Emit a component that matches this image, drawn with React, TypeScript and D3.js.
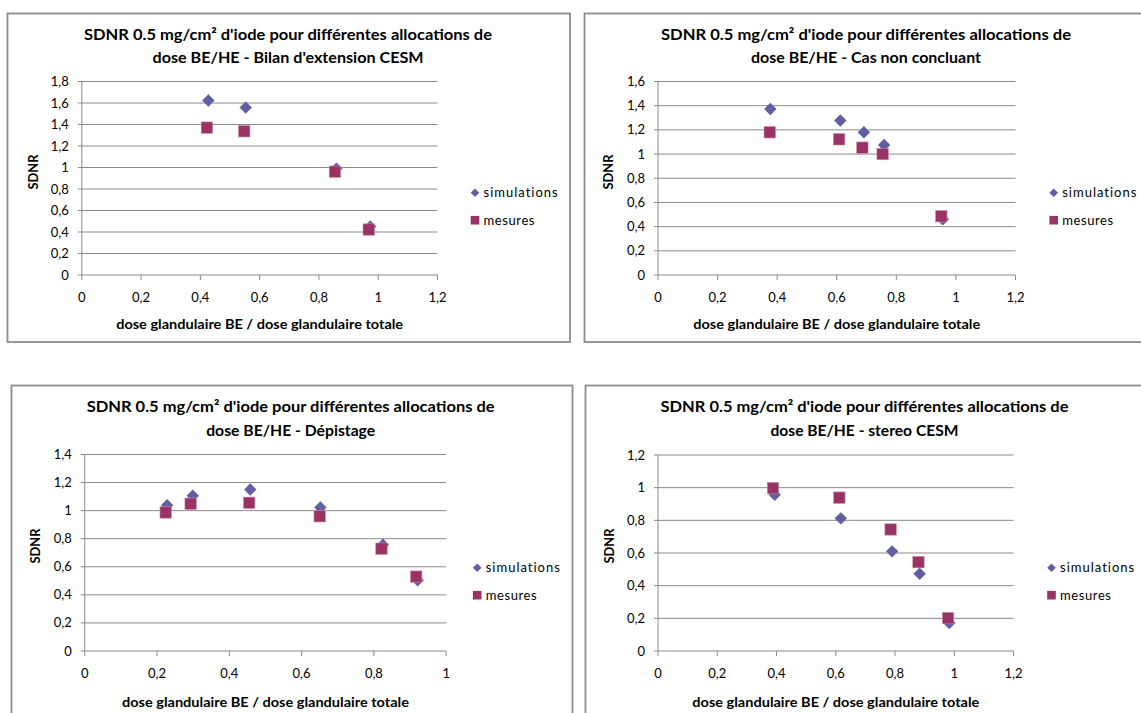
import React from "react";
import * as d3 from "d3";

// ---------- DATA ----------
const chartTitlesLine1 = [
  "SDNR 0.5 mg/cm² d'iode pour différentes allocations de",
  "SDNR 0.5 mg/cm² d'iode pour différentes allocations de",
  "SDNR 0.5 mg/cm² d'iode pour différentes allocations de",
  "SDNR 0.5 mg/cm² d'iode pour différentes allocations de",
];
const chartTitlesLine2 = [
  "dose BE/HE - Bilan d'extension CESM",
  "dose BE/HE - Cas non concluant",
  "dose BE/HE - Dépistage",
  "dose BE/HE - stereo CESM",
];
const seriesNames = ["simulations", "mesures"];
const xAxisTitle = "dose glandulaire BE / dose glandulaire totale";
const yAxisTitle = "SDNR";

// Bilan d'extension CESM
const simX1 = [0.427, 0.553, 0.859, 0.973];
const simY1 = [1.623, 1.557, 0.99, 0.451];
const mesX1 = [0.422, 0.548, 0.854, 0.968];
const mesY1 = [1.371, 1.337, 0.961, 0.423];
// Cas non concluant
const simX2 = [0.377, 0.612, 0.691, 0.759, 0.956];
const simY2 = [1.373, 1.277, 1.18, 1.075, 0.461];
const mesX2 = [0.375, 0.608, 0.686, 0.754, 0.951];
const mesY2 = [1.18, 1.122, 1.053, 1.0, 0.486];
// Dépistage
const simX3 = [0.228, 0.299, 0.458, 0.652, 0.825, 0.921];
const simY3 = [1.039, 1.106, 1.151, 1.022, 0.757, 0.504];
const mesX3 = [0.224, 0.293, 0.455, 0.65, 0.821, 0.917];
const mesY3 = [0.987, 1.049, 1.056, 0.96, 0.729, 0.53];
// stereo CESM
const simX4 = [0.394, 0.617, 0.79, 0.883, 0.983];
const simY4 = [0.957, 0.812, 0.61, 0.473, 0.171];
const mesX4 = [0.388, 0.612, 0.785, 0.879, 0.979];
const mesY4 = [0.997, 0.939, 0.744, 0.544, 0.201];

const xTicks1 = [0, 0.2, 0.4, 0.6, 0.8, 1, 1.2];
const xTicks3 = [0, 0.2, 0.4, 0.6, 0.8, 1];
const yTicks1 = [0, 0.2, 0.4, 0.6, 0.8, 1, 1.2, 1.4, 1.6, 1.8];
const yTicks2 = [0, 0.2, 0.4, 0.6, 0.8, 1, 1.2, 1.4, 1.6];
const yTicks3 = [0, 0.2, 0.4, 0.6, 0.8, 1, 1.2, 1.4];
const yTicks4 = [0, 0.2, 0.4, 0.6, 0.8, 1, 1.2];

const fmt = (v: number) => String(+v.toFixed(1)).replace(".", ",");

// ---------- LAYOUT / STYLE ----------
const FONT = "Lato, 'Open Sans', sans-serif";
const SIM_COLOR = "#5f5fa2";
const MES_COLOR = "#993366";
const GRID = "#8a8a8a";

const panels = [
  {
    box: { x: 7.5, y: 13.5, w: 562.5, h: 328.5 },
    plot: { l: 81.8, r: 437.5, t: 81.5, b: 275 },
    titleX: 288,
    titleY: [35.2, 58],
    titleW: [408, 271],
    xTitleY: 324.5,
    yTitle: { x: 32.7, y: 172 },
    legend: { x: 475, y: 192.8 },
    sim: [simX1, simY1], mes: [mesX1, mesY1],
    xTicks: xTicks1, yTicks: yTicks1,
  },
  {
    box: { x: 584.5, y: 13.5, w: 562.5, h: 328.5 },
    plot: { l: 658, r: 1015.5, t: 81.5, b: 275 },
    titleX: 866,
    titleY: [35.2, 58],
    titleW: [410, 230],
    xTitleY: 324.5,
    yTitle: { x: 608.2, y: 172 },
    legend: { x: 1053.7, y: 192.8 },
    sim: [simX2, simY2], mes: [mesX2, mesY2],
    xTicks: xTicks1, yTicks: yTicks2,
  },
  {
    box: { x: 11.5, y: 385.5, w: 561, h: 340 },
    plot: { l: 84.7, r: 446.2, t: 454.5, b: 651 },
    titleX: 290.7,
    titleY: [407, 431.3],
    titleW: [408, 169],
    xTitleY: 702,
    yTitle: { x: 35.6, y: 546 },
    legend: { x: 477.2, y: 567.8 },
    sim: [simX3, simY3], mes: [mesX3, mesY3],
    xTicks: xTicks3, yTicks: yTicks3,
  },
  {
    box: { x: 585.5, y: 385.5, w: 562.5, h: 340 },
    plot: { l: 658, r: 1013.6, t: 455, b: 651 },
    titleX: 864.5,
    titleY: [407, 431.3],
    titleW: [408, 188],
    xTitleY: 702,
    yTitle: { x: 609, y: 546 },
    legend: { x: 1051.5, y: 567.8 },
    sim: [simX4, simY4], mes: [mesX4, mesY4],
    xTicks: xTicks1, yTicks: yTicks4,
  },
];

function diamondPath(cx: number, cy: number, r: number) {
  return `M${cx},${cy - r}L${cx + r},${cy}L${cx},${cy + r}L${cx - r},${cy}Z`;
}

function Panel({ p, i }: { p: (typeof panels)[number]; i: number }) {
  const xMax = p.xTicks[p.xTicks.length - 1];
  const yMax = p.yTicks[p.yTicks.length - 1];
  const x = d3.scaleLinear().domain([0, xMax]).range([p.plot.l, p.plot.r]);
  const y = d3.scaleLinear().domain([0, yMax]).range([p.plot.b, p.plot.t]);
  const plotCx = (p.plot.l + p.plot.r) / 2;
  const simPts = p.sim[0].map((v, k) => [x(v), y(p.sim[1][k])]);
  const mesPts = p.mes[0].map((v, k) => [x(v), y(p.mes[1][k])]);
  return (
    <g>
      <rect x={p.box.x} y={p.box.y} width={p.box.w} height={p.box.h} fill="#fff" stroke="#8c8c8c" strokeWidth={1.8} />
      <text x={p.titleX} y={p.titleY[0] + 5} textAnchor="middle" fontFamily={FONT} fontWeight="bold" fontSize={14.5}
        textLength={p.titleW[0]} lengthAdjust="spacingAndGlyphs" fill="#000">
        {chartTitlesLine1[i]}
      </text>
      <text x={p.titleX} y={p.titleY[1] + 5} textAnchor="middle" fontFamily={FONT} fontWeight="bold" fontSize={14.5}
        textLength={p.titleW[1]} lengthAdjust="spacingAndGlyphs" fill="#000">
        {chartTitlesLine2[i]}
      </text>
      {/* gridlines */}
      {p.yTicks.map((t) => (
        <line key={"g" + t} x1={p.plot.l - 4} x2={p.plot.r} y1={y(t)} y2={y(t)} stroke={GRID} strokeWidth={1} />
      ))}
      {/* y axis */}
      <line x1={p.plot.l} x2={p.plot.l} y1={p.plot.t} y2={p.plot.b} stroke={GRID} strokeWidth={1} />
      {p.yTicks.map((t) => (
        <text key={"yl" + t} x={p.plot.l - 13} y={y(t) + 4.5} textAnchor="end" fontFamily={FONT} fontSize={13} fill="#000">
          {fmt(t)}
        </text>
      ))}
      {/* x axis ticks */}
      {p.xTicks.map((t) => (
        <g key={"xt" + t}>
          <line x1={x(t)} x2={x(t)} y1={p.plot.b} y2={p.plot.b + 5} stroke={GRID} strokeWidth={1} />
          <text x={x(t)} y={p.plot.b + 27} textAnchor="middle" fontFamily={FONT} fontSize={13} fill="#000">
            {fmt(t)}
          </text>
        </g>
      ))}
      <text x={plotCx} y={p.xTitleY + 4.8} textAnchor="middle" fontFamily={FONT} fontWeight="bold" fontSize={13.5}
        textLength={287} lengthAdjust="spacingAndGlyphs" fill="#000">
        {xAxisTitle}
      </text>
      <text
        transform={`translate(${p.yTitle.x + 4.8},${p.yTitle.y}) rotate(-90)`}
        textAnchor="middle"
        fontFamily={FONT}
        fontWeight="bold"
        fontSize={13.5}
        textLength={35}
        lengthAdjust="spacingAndGlyphs"
        fill="#000"
      >
        {yAxisTitle}
      </text>
      {/* markers */}
      {simPts.map(([px, py], k) => (
        <path key={"s" + k} d={diamondPath(px, py, 6.2)} fill={SIM_COLOR} />
      ))}
      {mesPts.map(([px, py], k) => (
        <rect key={"m" + k} x={px - 5.7} y={py - 5.7} width={11.4} height={11.4} fill={MES_COLOR} stroke="#c98aa8" strokeWidth={0.6} />
      ))}
      {/* legend */}
      <path d={diamondPath(p.legend.x, p.legend.y, 4.3)} fill={SIM_COLOR} />
      <text x={p.legend.x + 8.5} y={p.legend.y + 4.5} fontFamily={FONT} fontSize={13} letterSpacing={1} fill="#000">
        {seriesNames[0]}
      </text>
      <rect x={p.legend.x - 4.3} y={p.legend.y + 27.4 - 4.3} width={8.6} height={8.6} fill={MES_COLOR} />
      <text x={p.legend.x + 8.5} y={p.legend.y + 27.4 + 4.5} fontFamily={FONT} fontSize={13} letterSpacing={0.6} fill="#000">
        {seriesNames[1]}
      </text>
    </g>
  );
}

export default function App() {
  return (
    <div style={{ position: "absolute", left: 0, top: 0, width: 1141, height: 713, overflow: "hidden", background: "#fff" }}>
      <svg width={1141} height={713} style={{ display: "block" }}>
        <rect x={0} y={0} width={1141} height={713} fill="#fff" />
        {panels.map((p, i) => (
          <Panel key={i} p={p} i={i} />
        ))}
      </svg>
    </div>
  );
}
